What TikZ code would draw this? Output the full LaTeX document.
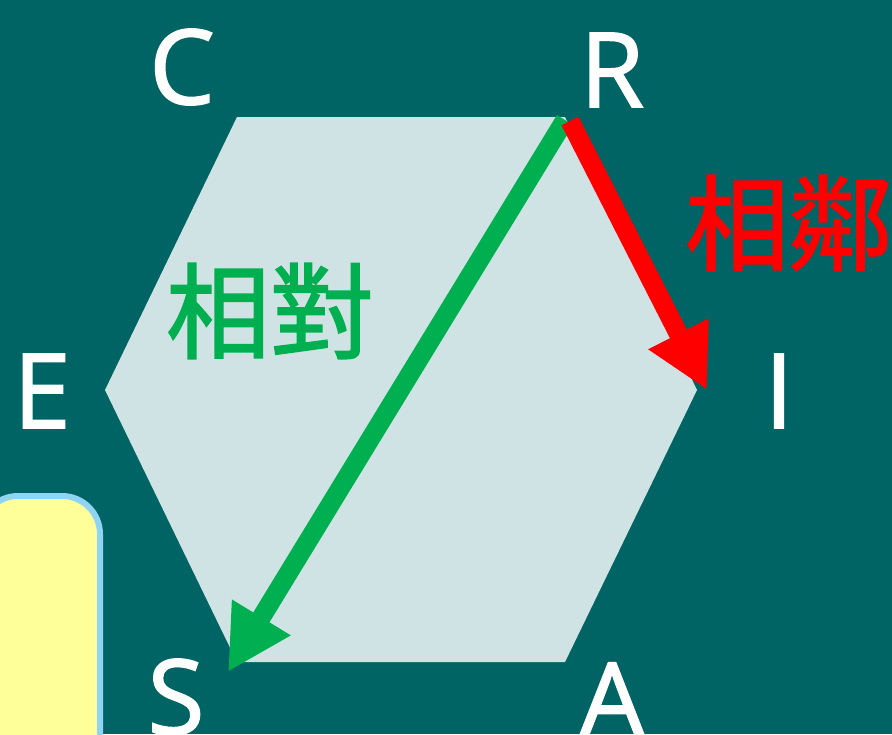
\documentclass[tikz,border=0pt]{standalone}
\usepackage{fontspec}
\setmainfont{Noto Sans CJK TC}
\newfontfamily\latinfont[FakeBold=1.5]{Open Sans}
\newfontfamily\cjkfont[FakeBold=1.6]{Noto Sans CJK TC}
\usetikzlibrary{arrows.meta}
\definecolor{bg}{RGB}{0,100,100}
\definecolor{hexfill}{RGB}{208,227,228}
\definecolor{grn}{RGB}{0,176,80}
\definecolor{rd}{RGB}{255,0,0}
\definecolor{ylw}{RGB}{255,255,153}
\definecolor{lblue}{RGB}{143,211,245}
\tikzset{
  vlabel/.style={text=white, font=\latinfont\fontsize{104}{104}\selectfont, inner sep=0pt},
  cjklabel/.style={font=\cjkfont\fontsize{104}{104}\selectfont, inner sep=0pt},
  bigarrow/.style={line width=19pt}
}
\begin{document}
\begin{tikzpicture}[x=1pt,y=-1pt]
\fill[bg] (0,0) rectangle (892,734);
\useasboundingbox (0,0) rectangle (892,734);
% hexagon
\coordinate (vC) at (237,117);
\coordinate (vR) at (565,117);
\coordinate (vI) at (697,390);
\coordinate (vA) at (565,662);
\coordinate (vS) at (237,662);
\coordinate (vE) at (105,390);
\fill[hexfill] (vC) -- (vR) -- (vI) -- (vA) -- (vS) -- (vE) -- cycle;
% yellow box
\draw[fill=ylw, draw=lblue, line width=6pt, rounded corners=38pt] (-20,496) rectangle (100,790);
% labels
\node[vlabel] (C) at (182,67) {C};
\node[vlabel] (R) at (612,70) {R};
\node[vlabel] (E) at (42,391) {E};
\node[vlabel] (I) at (779,391) {I};
\node[vlabel] (S) at (176,697) {S};
\node[vlabel] (A) at (612,700) {A};
% arrows
\coordinate (startG) at (565,120);
\coordinate (tipG) at (228,672);
\coordinate (startR) at (570,121);
\coordinate (tipR) at (707,390);
\draw[grn, bigarrow, -{Triangle[length=64pt,width=64pt]}] (startG) -- (tipG);
\draw[rd, bigarrow, -{Triangle[length=63pt,width=63pt]}] (startR) -- (tipR);
% cjk text
\node[cjklabel, text=rd] (adj) at (789,223) {相鄰};
\node[cjklabel, text=grn] (opp) at (270,311) {相對};
\end{tikzpicture}
\end{document}
